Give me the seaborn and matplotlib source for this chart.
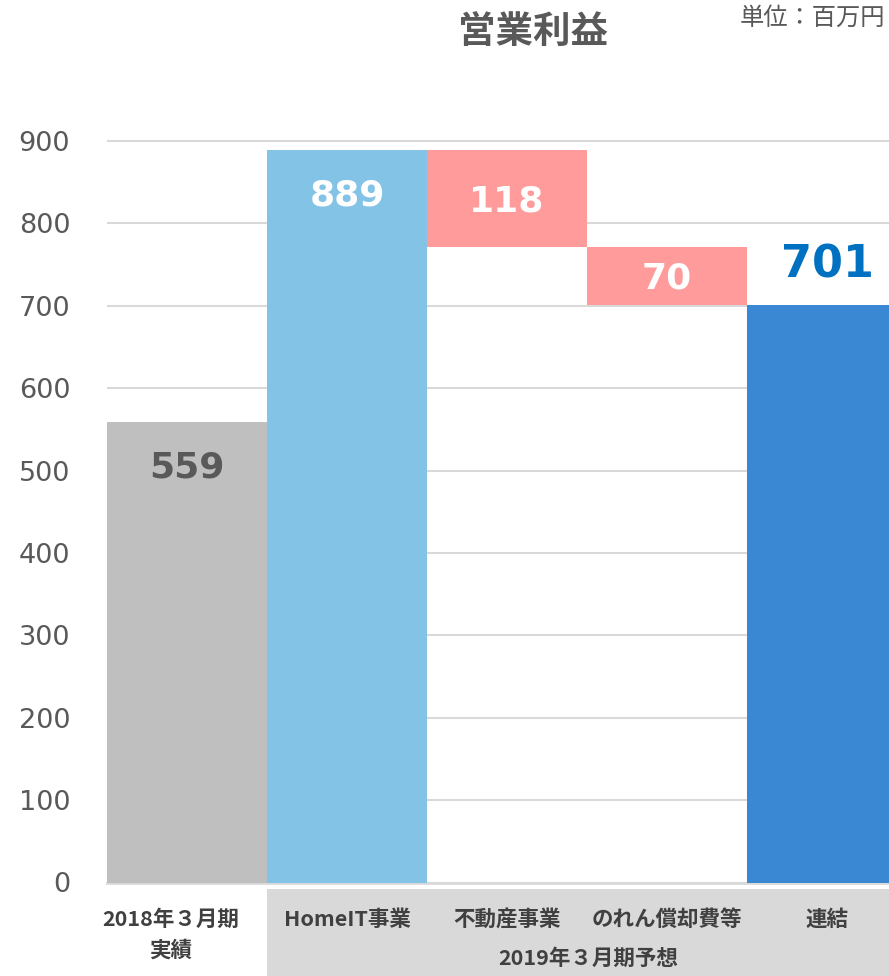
import matplotlib
matplotlib.use("Agg")
import matplotlib.pyplot as plt
import matplotlib.transforms as mtransforms
from matplotlib.patches import Rectangle
import seaborn as sns
import pandas as pd

# Operating profit bridge (million yen)
categories = ["2018年３月期実績", "HomeIT事業", "不動産事業", "のれん償却費等", "連結"]
tick_labels = ["2018年３月期\n実績", "HomeIT事業", "不動産事業", "のれん償却費等", "連結"]
values = [559, 889, 118, 70, 701]
steps = ["total", "total", "down", "down", "total"]
bar_colors = ["#BFBFBF", "#83C3E6", "#FF9B9B", "#FF9B9B", "#3A88D4"]
label_colors = ["#595959", "#FFFFFF", "#FFFFFF", "#FFFFFF", "#0070C0"]
label_modes = ["inside", "inside", "center", "center", "outside"]
group_label = "2019年３月期予想"
y_ticks = [0, 100, 200, 300, 400, 500, 600, 700, 800, 900]

# Waterfall bases: decreases hang from the running total
bases = []
running = 0
for v, s in zip(values, steps):
    if s == "total":
        bases.append(0)
        running = v
    else:
        running -= v
        bases.append(running)

CJK = ["Noto Sans CJK JP", "DejaVu Sans"]
TXT = "#595959"
LBL = "#404040"

sns.set_theme(style="white")
plt.rcParams["font.family"] = ["DejaVu Sans", "Noto Sans CJK JP"]

W, H = 889, 976
fig = plt.figure(figsize=(W / 100, H / 100), dpi=100)
y0_px, y900_px = 882.5, 141.0
ppu = (y0_px - y900_px) / 900.0
ytop = 912
ax_left = 107 / W
ax_bottom = (H - y0_px) / H
ax_height = ytop * ppu / H
ax = fig.add_axes([ax_left, ax_bottom, 1 - ax_left, ax_height])

df = pd.DataFrame({"cat": categories, "val": values})
sns.barplot(data=df, x="cat", y="val", hue="cat", palette=bar_colors,
            order=categories, hue_order=categories, legend=False,
            width=1.0, saturation=1, linewidth=0, ax=ax, zorder=3)

# Lift each bar onto its waterfall base
for p in ax.patches:
    i = int(round(p.get_x() + p.get_width() / 2))
    p.set_y(bases[i])
    p.set_height(values[i])

ax.set_xlim(-0.5, 4.3875)
ax.set_ylim(0, ytop)
ax.set_yticks(y_ticks)
ax.set_yticklabels([str(t) for t in y_ticks])
ax.tick_params(axis="y", length=0, pad=26.5, labelsize=19.5, labelcolor=TXT)
ax.set_xticks([])
ax.set_xlabel("")
ax.set_ylabel("")
ax.grid(axis="y", color="#D9D9D9", linewidth=1.5, zorder=0)
ax.set_axisbelow(True)
for side in ["top", "right", "left"]:
    ax.spines[side].set_visible(False)
ax.spines["bottom"].set_color("#D9D9D9")
ax.spines["bottom"].set_linewidth(2)

# Value labels
for i, (v, b, m) in enumerate(zip(values, bases, label_modes)):
    top = b + v
    if m == "inside":
        ax.annotate(str(v), (i, top), xytext=(0, -33), textcoords="offset points",
                    ha="center", va="center", fontsize=26, fontweight="bold",
                    color=label_colors[i], zorder=5)
    elif m == "center":
        ax.annotate(str(v), (i, b + v / 2), xytext=(0, -2), textcoords="offset points",
                    ha="center", va="center", fontsize=26, fontweight="bold",
                    color=label_colors[i], zorder=5)
    else:
        ax.annotate(str(v), (i, top), xytext=(0, 29), textcoords="offset points",
                    ha="center", va="center", fontsize=32, fontweight="bold",
                    color=label_colors[i], zorder=5)

# Category band below the axis
bt = mtransforms.blended_transform_factory(ax.transData, fig.transFigure)
fig.add_artist(Rectangle((0.5, 0), 4.5, (H - 889) / H, transform=bt,
                         facecolor="#D9D9D9", edgecolor="none", zorder=0))
label_shift = [-0.1, 0, 0, 0, 0]
for i, lab in enumerate(tick_labels):
    parts = lab.split("\n")
    fig.text(i + label_shift[i], (H - 919) / H, parts[0], transform=bt, ha="center",
             va="center", fontsize=15.5, fontweight="bold", color=LBL, family=CJK)
    if len(parts) > 1:
        fig.text(i + label_shift[i], (H - 950) / H, parts[1], transform=bt, ha="center",
                 va="center", fontsize=15.5, fontweight="bold", color=LBL, family=CJK)
fig.text(588 / W, (H - 958) / H, group_label, ha="center", va="center",
         fontsize=15.5, fontweight="bold", color=LBL, family=CJK)

# Titles
fig.text(533 / W, (H - 31) / H, "営業利益", ha="center", va="center",
         fontsize=27, fontweight="bold", color=TXT, family=CJK)
fig.text(885 / W, (H - 18) / H, "単位：百万円", ha="right", va="center",
         fontsize=17.5, color=TXT, family=CJK)

fig.savefig("out.png", dpi=100)
